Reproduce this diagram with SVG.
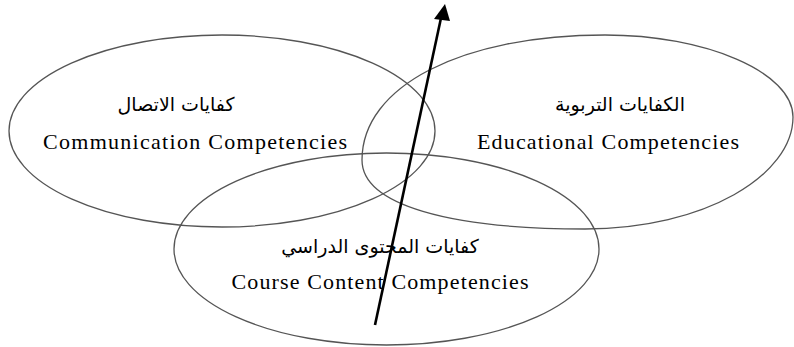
<svg xmlns="http://www.w3.org/2000/svg" width="794" height="347" viewBox="0 0 794 347">
  <style>
    .ring { fill: none; stroke: #555; stroke-width: 1.3; }
    .en { font-family: "Liberation Serif", "Times New Roman", serif; font-size: 22px; fill: #000; text-anchor: middle; }
    .ar { font-family: "DejaVu Sans", sans-serif; font-size: 19px; fill: #000; text-anchor: middle; direction: rtl; }
  </style>
  <rect width="794" height="347" fill="#fff"/>

  <g id="communication">
    <ellipse class="ring" cx="222" cy="131" rx="213" ry="96"/>
    <text class="ar" x="176" y="111">كفايات الاتصال</text>
    <text class="en" x="195" y="149" textLength="304" lengthAdjust="spacing">Communication Competencies</text>
  </g>

  <g id="educational">
    <!-- slightly tilted oval: left end sits lower than the right end -->
    <path class="ring" d="M362,160 C362,86 462,35 605,35 C705,35 793,72 793,117 C793,175 705,229 585,229 C450,229 362,205 362,160 Z"/>
    <text class="ar" x="620" y="111">الكفايات التربوية</text>
    <text class="en" x="608" y="149" textLength="262" lengthAdjust="spacing">Educational Competencies</text>
  </g>

  <g id="course">
    <ellipse class="ring" cx="386.5" cy="249" rx="212.5" ry="96"/>
    <text class="ar" x="380" y="253">كفايات المحتوى الدراسي</text>
    <text class="en" x="380" y="289" textLength="297" lengthAdjust="spacing">Course Content Competencies</text>
  </g>

  <g id="connectors">
    <line x1="375" y1="325" x2="441" y2="18" stroke="#000" stroke-width="2.6"/>
    <polygon points="445,4 434,19 450,21" fill="#000"/>
  </g>
</svg>
